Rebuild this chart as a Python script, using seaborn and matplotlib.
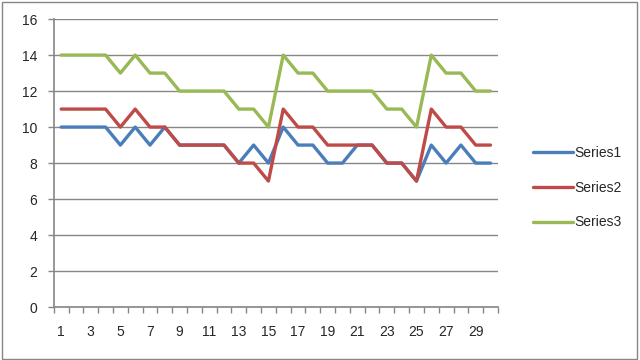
import pandas as pd
import matplotlib
matplotlib.use('Agg')
import matplotlib.pyplot as plt
import seaborn as sns
import numpy as np

# values
x_values = list(range(1, 31))
series1 = [10, 10, 10, 10, 9, 10, 9, 10, 9, 9, 9, 9, 8, 9, 8,
           10, 9, 9, 8, 8, 9, 9, 8, 8, 7, 9, 8, 9, 8, 8]
series2 = [11, 11, 11, 11, 10, 11, 10, 10, 9, 9, 9, 9, 8, 8, 7,
           11, 10, 10, 9, 9, 9, 9, 8, 8, 7, 11, 10, 10, 9, 9]
series3 = [14, 14, 14, 14, 13, 14, 13, 13, 12, 12, 12, 12, 11, 11, 10,
           14, 13, 13, 12, 12, 12, 12, 11, 11, 10, 14, 13, 13, 12, 12]
series_names = ['Series1', 'Series2', 'Series3']
colors = ['#4A7EBB', '#BE4B48', '#98B954']

df = pd.DataFrame({
    'x': x_values * 3,
    'value': series1 + series2 + series3,
    'series': np.repeat(series_names, len(x_values)),
})

sns.set_style('white')
plt.rcParams['font.family'] = ['Liberation Sans', 'DejaVu Sans']

fig = plt.figure(figsize=(6.4, 3.6), dpi=100)
ax = fig.add_axes([0.084, 0.147, 0.694, 0.8])

sns.lineplot(data=df, x='x', y='value', hue='series', palette=colors,
             linewidth=2.4, ax=ax, legend=True)

ax.set_xlim(0.5, 30.5)
ax.set_ylim(0, 16)
ax.set_yticks(range(0, 17, 2))
ax.set_xticks(range(1, 30, 2))
ax.set_xticks(np.arange(0.5, 31, 1), minor=True)
ax.tick_params(axis='x', which='major', length=0, pad=13, labelsize=10)
ax.tick_params(axis='x', which='minor', length=4, width=1, color='#868686', direction='out', bottom=True)
ax.tick_params(axis='y', length=4, width=1, color='#868686', direction='out', left=True, labelsize=10, pad=8)
ax.set_xlabel('')
ax.set_ylabel('')
ax.grid(axis='y', color='#868686', linewidth=1)
ax.set_axisbelow(True)
for side in ['top', 'right']:
    ax.spines[side].set_visible(False)
for side in ['left', 'bottom']:
    ax.spines[side].set_color('#868686')
    ax.spines[side].set_linewidth(1.2)

ax.legend(loc='center left', bbox_to_anchor=(1.05, 0.415), frameon=False,
          fontsize=10, labelspacing=1.5, handlelength=2.9, handletextpad=0.1)

# outer chart border
fig.patches.append(plt.Rectangle((0.003, 0.004), 0.993, 0.99, transform=fig.transFigure,
                                 fill=False, edgecolor='#868686', linewidth=1))

fig.savefig('out.png', dpi=100)
